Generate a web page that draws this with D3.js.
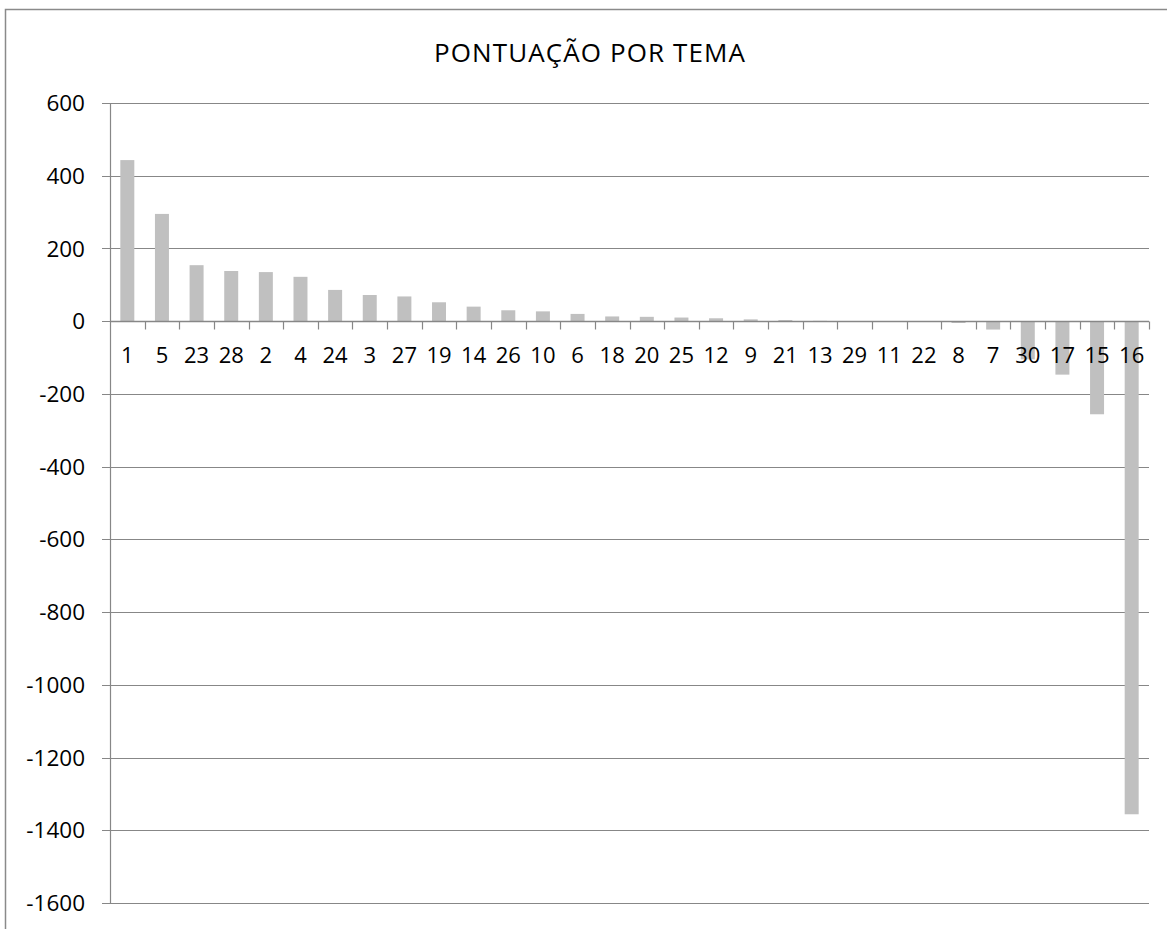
<!DOCTYPE html>
<html><head><meta charset="utf-8">
<script src="https://cdn.jsdelivr.net/npm/d3@7"></script>
<style>body{margin:0;background:#fff}svg{display:block}text{font-family:"Open Sans",sans-serif;fill:#000}</style>
</head><body><svg id="c" width="1167" height="929"></svg>
<script>
const title = "PONTUAÇÃO POR TEMA";
const categories = ["1","5","23","28","2","4","24","3","27","19","14","26","10","6","18","20","25","12","9","21","13","29","11","22","8","7","30","17","15","16"];
const values = [443,295,154,138,135,122,86,72,68,52,40,30,27,20,13,12,10,8,5,3,1,0,0,0,-5,-23,-105,-147,-256,-1356];
const yTicks = [600,400,200,0,-200,-400,-600,-800,-1000,-1200,-1400,-1600];

const svg = d3.select("#c");
const L = 110, R = 1149, T = 103, B = 903;
const grid = "#878787";

svg.append("rect").attr("x",5.5).attr("y",9.5).attr("width",1200).attr("height",1000)
  .attr("fill","#fff").attr("stroke","#8a8a8a").attr("stroke-width",1.5);

const x = d3.scaleBand().domain(categories).range([L,R]).paddingInner(0.596).paddingOuter(0.298);
const y = d3.scaleLinear().domain([-1600,600]).range([B,T]);

// gridlines
svg.append("g").selectAll("line").data(yTicks).join("line")
  .attr("x1",L-8).attr("x2",R).attr("y1",d=>Math.round(y(d))+0.5).attr("y2",d=>Math.round(y(d))+0.5)
  .attr("stroke",grid).attr("stroke-width",1.2);

// y axis line
svg.append("line").attr("x1",L+0.5).attr("x2",L+0.5).attr("y1",T).attr("y2",B+0.5)
  .attr("stroke",grid).attr("stroke-width",1.2);

// y labels
svg.append("g").selectAll("text").data(yTicks).join("text")
  .attr("x",85).attr("y",d=>y(d)).attr("dy","0.36em").attr("text-anchor","end")
  .attr("font-size",22.5).text(d=>d);

// bars
svg.append("g").selectAll("rect").data(values).join("rect")
  .attr("x",(d,i)=>x(categories[i])).attr("width",x.bandwidth())
  .attr("y",d=>y(Math.max(0,d))).attr("height",d=>Math.abs(y(d)-y(0)))
  .attr("fill","#c0c0c0");

// x axis line at zero
const y0 = Math.round(y(0))+0.5;
svg.append("line").attr("x1",L).attr("x2",R).attr("y1",y0).attr("y2",y0).attr("stroke",grid).attr("stroke-width",1.5);
const step = x.step();
const bounds = d3.range(categories.length+1).map(i=>L+i*step).slice(1);
svg.append("g").selectAll("line").data(bounds).join("line")
  .attr("x1",d=>Math.round(d)+0.5).attr("x2",d=>Math.round(d)+0.5).attr("y1",y0).attr("y2",y0+8)
  .attr("stroke",grid).attr("stroke-width",1.2);

// category labels
svg.append("g").selectAll("text").data(categories).join("text")
  .attr("x",d=>x(d)+x.bandwidth()/2).attr("y",363).attr("text-anchor","middle")
  .attr("font-size",22).text(d=>d);

// title
svg.append("text").attr("x",590).attr("y",62).attr("text-anchor","middle").attr("font-size",26)
  .attr("letter-spacing",1.1).text(title);
</script></body></html>
